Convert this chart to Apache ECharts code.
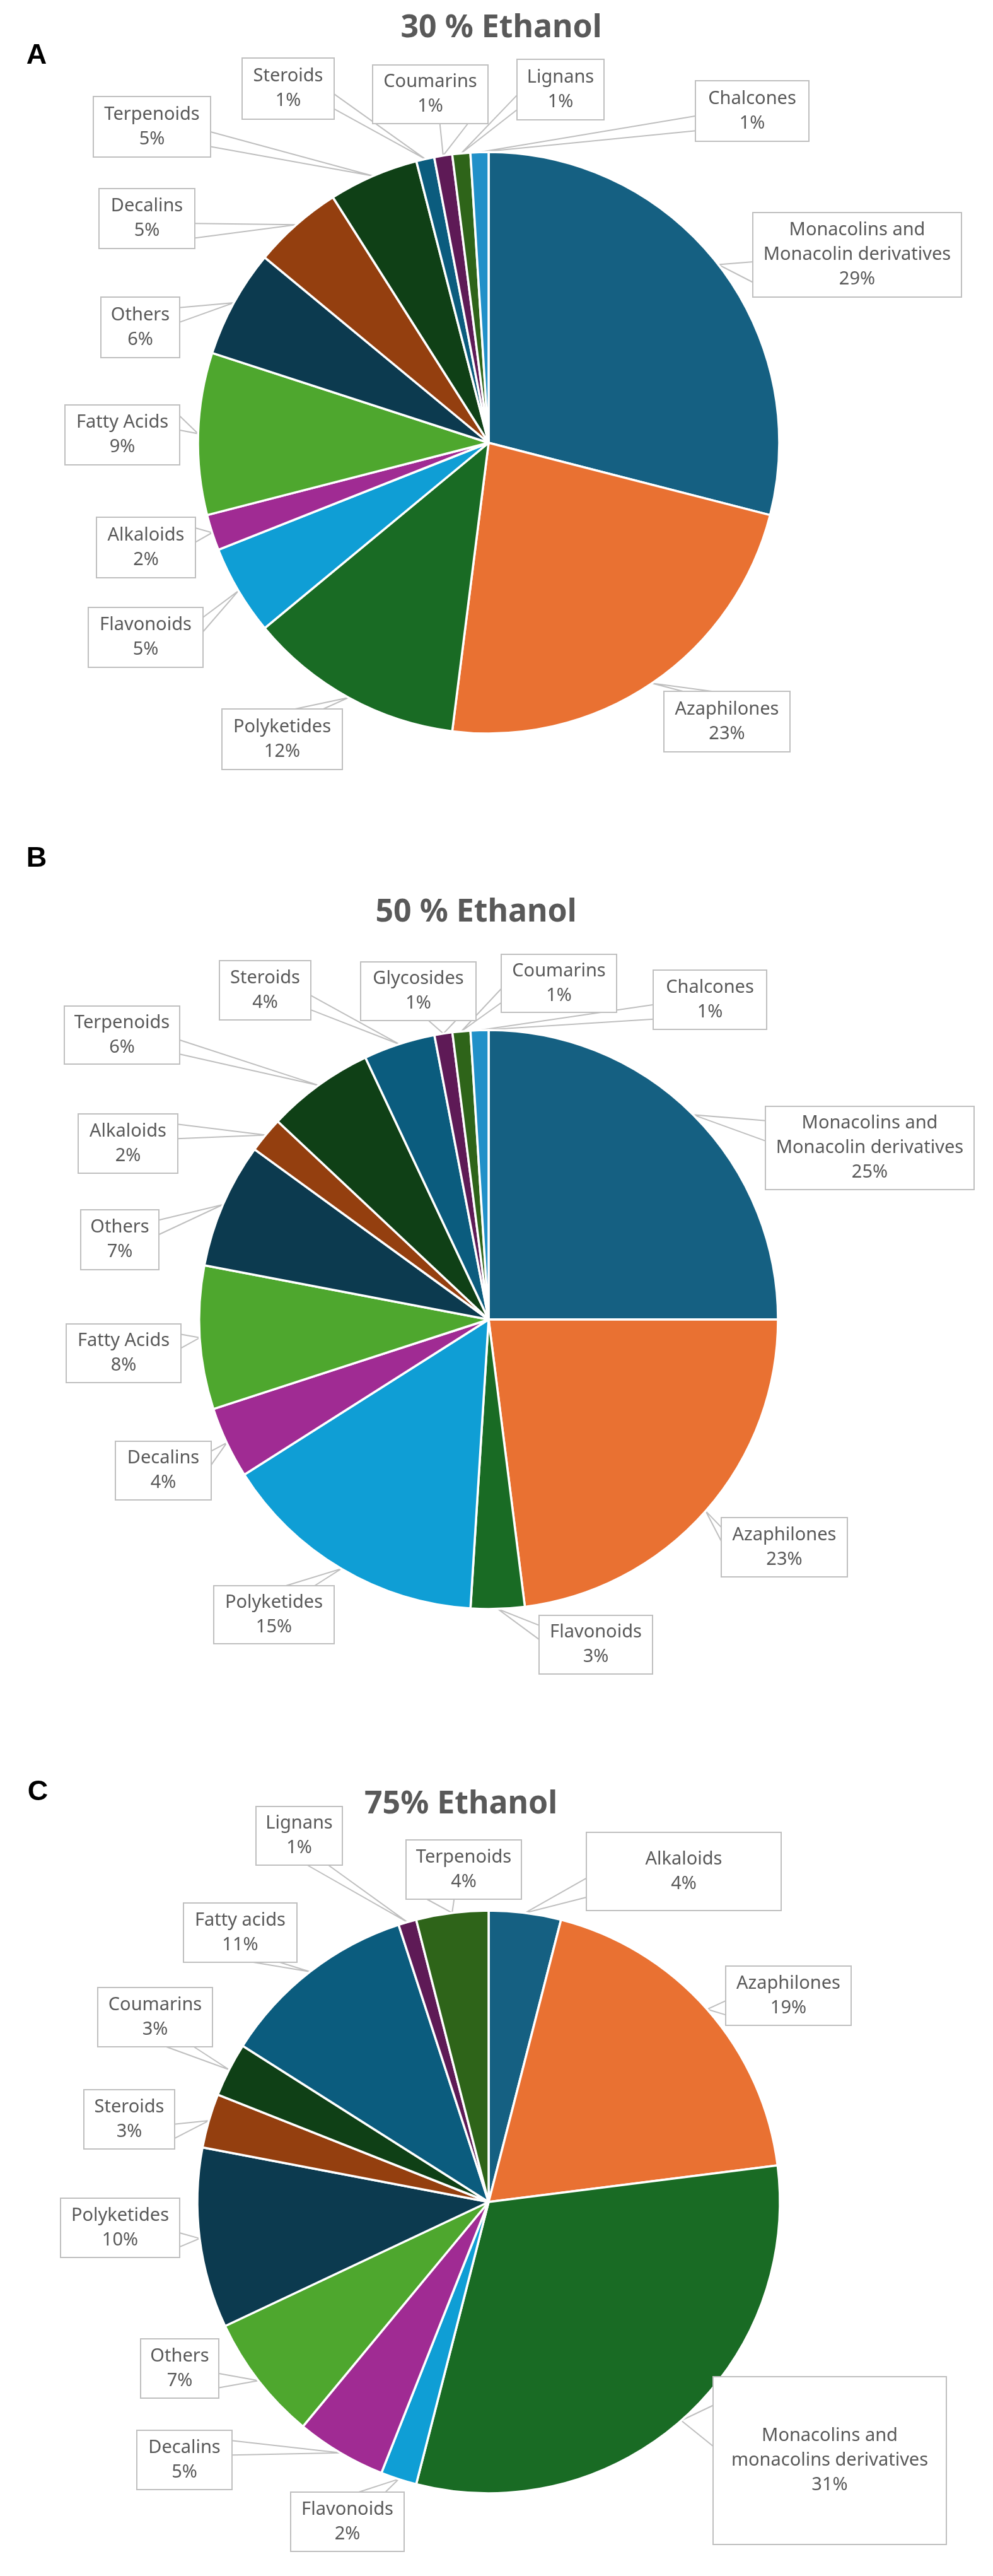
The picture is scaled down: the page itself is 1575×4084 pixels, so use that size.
<!DOCTYPE html>
<html>
<head>
<meta charset="utf-8">
<title>Ethanol extract composition</title>
<script src="https://cdn.jsdelivr.net/npm/echarts@6/dist/echarts.min.js"></script>
<style>
  html, body { margin: 0; padding: 0; background: #ffffff; }
  #chart { width: 1575px; height: 4084px; }
</style>
</head>
<body>
<div id="chart"></div>
<script>
// ===== data (clockwise from 12 o'clock) =====
const catsA = ['Monacolins and\nMonacolin derivatives', 'Azaphilones', 'Polyketides', 'Flavonoids', 'Alkaloids',
  'Fatty Acids', 'Others', 'Decalins', 'Terpenoids', 'Steroids', 'Coumarins', 'Lignans', 'Chalcones'];
const valsA = [29, 23, 12, 5, 2, 9, 6, 5, 5, 1, 1, 1, 1];

const catsB = ['Monacolins and\nMonacolin derivatives', 'Azaphilones', 'Flavonoids', 'Polyketides', 'Decalins',
  'Fatty Acids', 'Others', 'Alkaloids', 'Terpenoids', 'Steroids', 'Glycosides', 'Coumarins', 'Chalcones'];
const valsB = [25, 23, 3, 15, 4, 8, 7, 2, 6, 4, 1, 1, 1];

const catsC = ['Alkaloids', 'Azaphilones', 'Monacolins and\nmonacolins derivatives', 'Flavonoids', 'Decalins',
  'Others', 'Polyketides', 'Steroids', 'Coumarins', 'Fatty acids', 'Lignans', 'Terpenoids'];
const valsC = [4, 19, 31, 2, 5, 7, 10, 3, 3, 11, 1, 4];

const titles = ['30 % Ethanol', '50 % Ethanol', '75% Ethanol'];
const panels = ['A', 'B', 'C'];

// ===== look =====
const PALETTE = ['#156082', '#E97132', '#196B24', '#0F9ED5', '#A02B93', '#4EA72E',
  '#0C3A4F', '#943F0F', '#0F4016', '#0B5C7E', '#5E1A56', '#2E6419', '#2190C8'];
const FONT = '"Noto Sans", "Open Sans", sans-serif';
const TEXT = '#595959';
const LINE = '#BFBFBF';
const LH = 39;

// callout boxes per slice: [left, top, width, height]
const boxA = [[1195, 338, 329, 132], [1054, 1097, 198, 94], [353, 1125, 189, 94], [141, 964, 180, 93],
  [154, 821, 155, 94], [104, 643, 180, 93], [161, 472, 123, 94], [158, 300, 150, 93], [149, 154, 184, 94],
  [385, 93, 144, 95], [592, 104, 181, 91], [821, 95, 136, 94], [1104, 129, 178, 94]];
const boxB = [[1215, 1755, 329, 130], [1145, 2407, 198, 92], [856, 2562, 178, 91], [340, 2515, 189, 90],
  [184, 2286, 150, 91], [106, 2100, 180, 91], [129, 1919, 122, 93], [125, 1767, 156, 92], [103, 1596, 181, 90],
  [349, 1524, 143, 92], [573, 1526, 181, 91], [796, 1514, 181, 90], [1037, 1539, 178, 92]];
const boxC = [[931, 2906, 307, 122], [1152, 3118, 197, 92], [1132, 3769, 368, 264], [462, 3952, 178, 92],
  [218, 3854, 149, 92], [224, 3709, 122, 92], [97, 3486, 187, 92], [134, 3314, 142, 92], [156, 3152, 180, 92],
  [292, 3018, 178, 92], [407, 2865, 135, 91], [645, 2918, 181, 92]];

// Excel-style wedge callout: pointer base sits on the box side facing the tip
function calloutPoints(box, tip) {
  const [x, y, w, h] = box;
  const dx = tip[0] - (x + w / 2), dy = tip[1] - (y + h / 2);
  if (Math.abs(dx * h / w) > Math.abs(dy)) {
    const ex = dx > 0 ? x + w : x;
    return [[ex, y + h * (dy > 0 ? 7 : 2) / 12], tip, [ex, y + h * (dy > 0 ? 10 : 5) / 12]];
  }
  const ey = dy > 0 ? y + h : y;
  return [[x + w * (dx > 0 ? 7 : 2) / 12, ey], tip, [x + w * (dx > 0 ? 10 : 5) / 12, ey]];
}

function pieSeries(cats, vals, boxes, center, radius) {
  return {
    type: 'pie',
    center: center,
    radius: radius,
    startAngle: 90,
    clockwise: true,
    avoidLabelOverlap: false,
    silent: true,
    animation: false,
    itemStyle: { borderColor: '#ffffff', borderWidth: 3.5 },
    label: {
      show: true,
      position: 'outside',
      formatter: p => p.name + '\n' + p.value + '%',
      color: TEXT,
      fontFamily: FONT,
      fontSize: 29,
      lineHeight: LH,
      align: 'center',
      overflow: 'none',
      backgroundColor: '#ffffff',
      borderColor: LINE,
      borderWidth: 2
    },
    labelLine: { show: true, length: 10, length2: 10, smooth: false, lineStyle: { color: LINE, width: 2 } },
    labelLayout: p => {
      const b = boxes[p.dataIndex];
      const tip = p.labelLinePoints ? p.labelLinePoints[0] : [b[0], b[1]];
      return {
        x: b[0] + b[2] / 2, y: b[1] + b[3] / 2, align: 'center', verticalAlign: 'middle',
        labelLinePoints: calloutPoints(b, tip)
      };
    },
    data: cats.map((name, i) => {
      const b = boxes[i];
      const n = name.split('\n').length + 1;
      const pt = (b[3] - n * LH) / 2;
      return {
        name: name, value: vals[i],
        itemStyle: { color: PALETTE[i] },
        label: { width: b[2], height: b[3] - pt, padding: [pt, 0, 0, 0] }
      };
    })
  };
}

const titlePos = [[795, 45], [755, 1447], [731, 2861]];
const panelPos = [[58, 89], [58, 1362], [60, 2842]];

const graphics = [];
titles.forEach((t, i) => graphics.push({
  type: 'text', x: titlePos[i][0], y: titlePos[i][1], silent: true,
  style: { text: t, font: 'bold 50px ' + FONT, fill: TEXT, align: 'center', verticalAlign: 'middle' }
}));
panels.forEach((t, i) => graphics.push({
  type: 'text', x: panelPos[i][0], y: panelPos[i][1], silent: true,
  style: { text: t, font: 'bold 45px "Liberation Sans", Arial, sans-serif', fill: '#000000', align: 'center', verticalAlign: 'middle' }
}));

const chart = echarts.init(document.getElementById('chart'), null, { renderer: 'canvas' });
chart.setOption({
  backgroundColor: '#ffffff',
  animation: false,
  graphic: graphics,
  series: [
    pieSeries(catsA, valsA, boxA, [775, 702], 461),
    pieSeries(catsB, valsB, boxB, [775, 2092], 459),
    pieSeries(catsC, valsC, boxC, [775, 3491], 462)
  ]
});
window.addEventListener('resize', () => chart.resize());
</script>
</body>
</html>
